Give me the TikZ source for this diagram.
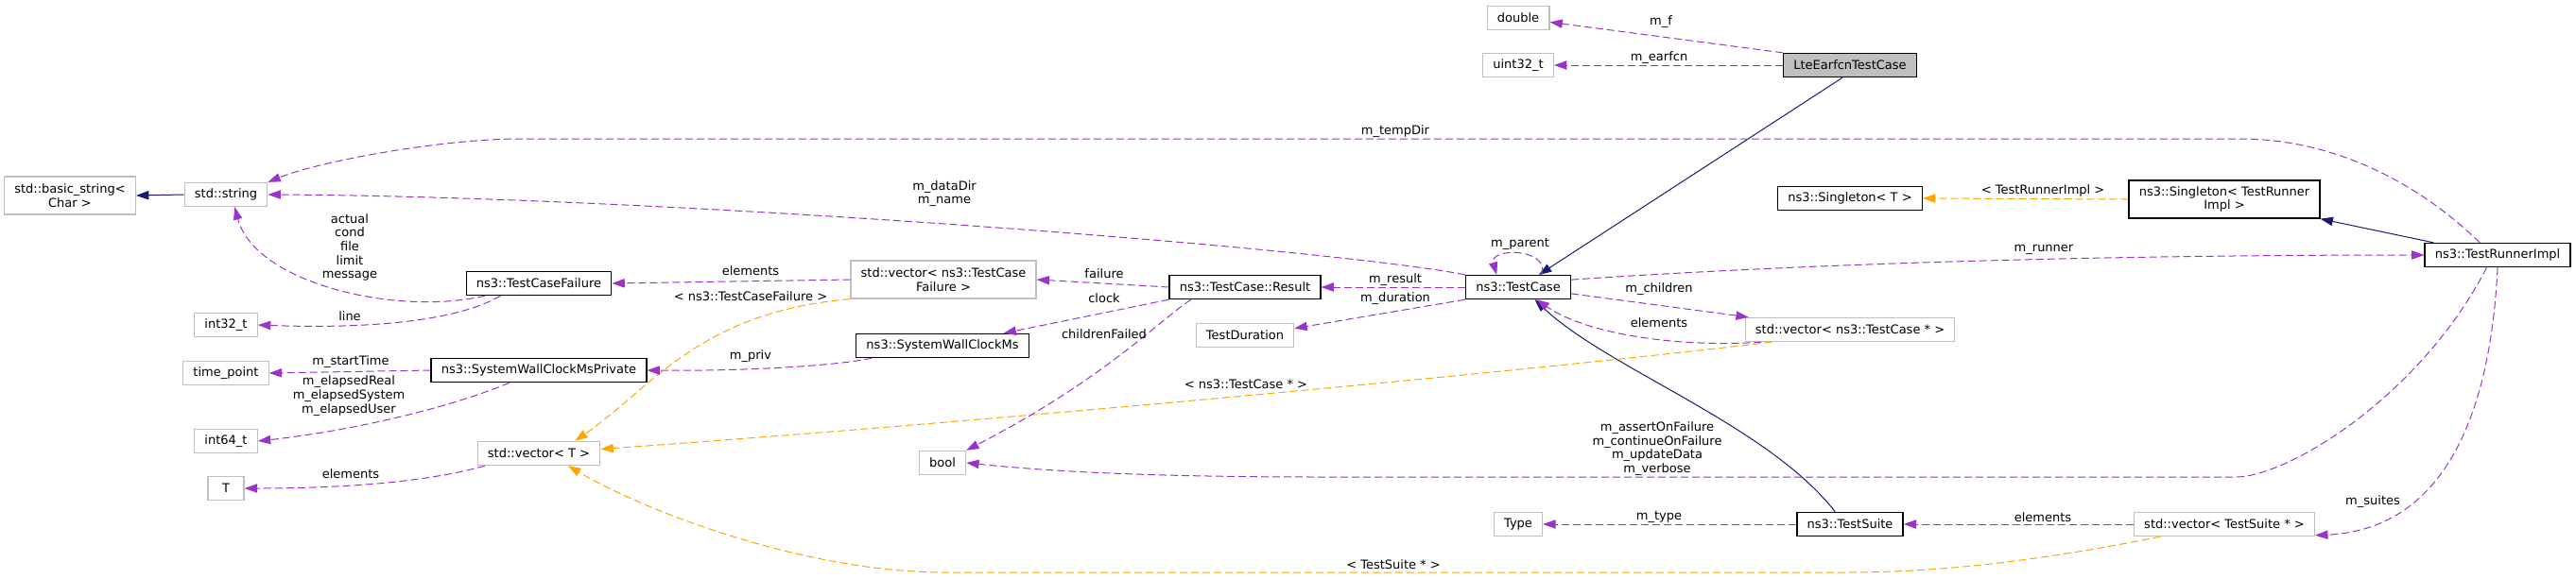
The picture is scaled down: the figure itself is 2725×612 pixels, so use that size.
\documentclass[tikz,border=0pt]{standalone}
\usepackage{fontspec}
\setmainfont{DejaVu Sans}
\usetikzlibrary{
    positioning,
    arrows.meta
    }
\definecolor{edgepurple}{HTML}{9A32CD}
\definecolor{edgeorange}{HTML}{FFA500}
\definecolor{edgeblue}{HTML}{191970}
\definecolor{boxgray}{HTML}{BFBFBF}

\begin{document}
\begin{tikzpicture}[x=0.75pt, y=-0.75pt, every node/.style={font=\fontsize{9.75}{11}\selectfont}]
\tikzset{docnode/.style =
        {
            rectangle,
            draw=black,
            line width=1pt,
            fill=white,
            inner xsep=8pt,
            inner ysep=2pt,
            minimum width=28.5pt,
            minimum height=18.75pt,
            align=center
        }
}

\tikzset{extnode/.style = { docnode, draw=boxgray } }

\tikzset{mainnode/.style = { docnode, fill=boxgray } }

\tikzset{tallnode/.style = { minimum height=30pt } }

\tikzset{member/.style =
        {
            line width=0.75pt,
            edgepurple,
            dash pattern=on 6pt off 3pt,
            -{Triangle[length=10pt, width=7pt]}
        }
}

\tikzset{tmpl/.style = { member, edgeorange } }

\tikzset{inherit/.style = { member, edgeblue, solid } }

\tikzset{elabel/.style =
        {
            inner sep=0pt,
            align=center,
            text=black
        }
}
		\useasboundingbox (0,0) rectangle (2725,612);

		\foreach \name / \x / \y / \txt in
			{str/239/206/std::string,
				i32/239/344/int32\_t,
				tp/239/395/time\_point,
				i64/239/467/int64\_t,
				vecT/570/480/std::vector< T >,
				tT/239/517/T,
				dur/1317/355/TestDuration,
				bool/997/490/bool,
				dbl/1606/19/double,
				u32/1606/69/uint32\_t,
				vecTC/1957/349/std::vector< ns3::TestCase * >,
				type/1606/555/Type,
				vecTS/2353/555/std::vector< TestSuite * >}
		\node[extnode] (\name) at (\x,\y) {\txt};

		\foreach \name / \x / \y / \txt in
			{tcf/570/300/ns3::TestCaseFailure,
				swcp/570/392/ns3::SystemWallClockMsPrivate,
				res/1317/304/ns3::TestCase::Result,
				swc/997/366/ns3::SystemWallClockMs,
				sgT/1957/210/ns3::Singleton< T >,
				tc/1606/304/ns3::TestCase,
				tri/2642/270/ns3::TestRunnerImpl,
				ts/1957/555/ns3::TestSuite}
		\node[docnode] (\name) at (\x,\y) {\txt};

		\node[extnode, tallnode] (bstr) at (74,207) {std::basic\_string<\\Char >};
		\node[extnode, tallnode] (vecTCF) at (998,296) {std::vector< ns3::TestCase\\Failure >};
		\node[docnode, tallnode] (sgR) at (2353,211) {ns3::Singleton< TestRunner\\Impl >};
		\node[mainnode] (lte) at (1957,69) {LteEarfcnTestCase};

		% inheritance
		\draw[inherit] (str.west) -- (bstr.east);
		\draw[inherit] (lte.239) -- (tc.31);
		\draw[inherit] (ts.140) .. controls (1870,450) and (1700,390) .. (tc.-37);
		\draw[inherit] (tri.169) -- (sgR.south east);

		% template instances
		\draw[tmpl] (sgR.west) -- (sgT.east);
		\draw[tmpl] (vecTCF.south west) .. controls (740,330) and (690,410) .. (vecT.19);
		\draw[tmpl] (vecTC.189) .. controls (1600,395) and (1000,450) .. (vecT.4);
		\draw[tmpl] (vecTS.191) .. controls (2150,595) and (2050,606) .. (1950,606)
			-- (1000,606) .. controls (850,606) and (680,540) .. (vecT.-23);

		% members
		\draw[member] (lte.north west) -- (dbl);
		\draw[member] (lte) -- (u32);
		\draw[member] (tri.145) .. controls (2560,195) and (2470,147) .. (2370,147)
			-- (549,147) .. controls (470,147) and (340,170) .. (str.north east);
		\draw[member] (tc.north west) .. controls (1400,262) and (700,208) .. (str.east);
		\draw[member] (tcf.193) .. controls (420,335) and (270,300) .. (str.-55);
		\draw[member] (tcf.198) .. controls (480,342) and (380,348) .. (i32.east);
		\draw[member] (vecTCF.west) -- (tcf.east);
		\draw[member] (res.west) -- (vecTCF.east);
		\draw[member] (res.south west) -- (swc);
		\draw[member] (res.193) .. controls (1225,340) and (1170,400) .. (bool.north east);
		\draw[member] (swc.190) .. controls (880,388) and (780,393) .. (swcp.east);
		\draw[member] (swcp.west) -- (tp.east);
		\draw[member] (swcp.203) .. controls (480,430) and (380,455) .. (i64.east);
		\draw[member] (vecT.193) .. controls (460,508) and (380,517) .. (tT.east);
		\draw[member] (tc.28) .. controls (1640,262) and (1575,262) .. (tc.150);
		\draw[member] (tc.west) -- (res.east);
		\draw[member] (tc.south west) -- (dur.8);
		\draw[member] (tc.8) .. controls (1900,280) and (2200,270) .. (tri.west);
		\draw[member] (tc.-7) -- (vecTC.173);
		\draw[member] (vecTC.188) .. controls (1780,368) and (1680,355) .. (tc.-34);
		\draw[member] (tri.229) .. controls (2560,420) and (2420,505) .. (2365,505)
			-- (1400,505) .. controls (1200,505) and (1100,498) .. (bool.east);
		\draw[member] (tri.south) .. controls (2635,430) and (2590,560) .. (vecTS.-7);
		\draw[member] (vecTS.west) -- (ts.east);
		\draw[member] (ts.west) -- (type.east);

		\foreach \name / \x / \y / \txt in
			{l-mf/1757/23/m\_f,
				l-earfcn/1755/61/m\_earfcn,
				l-tempdir/1476/139/m\_tempDir,
				l-line/370/335/line,
				l-elemtcf/794/287/elements,
				l-failure/1168/290/failure,
				l-clock/1168/316/clock,
				l-childfail/1168/354/childrenFailed,
				l-priv/794/377/m\_priv,
				l-start/371/383/m\_startTime,
				l-elemt/371/502/elements,
				l-parent/1608/258/m\_parent,
				l-result/1476/296/m\_result,
				l-duration/1476/316/m\_duration,
				l-runner/2162/264/m\_runner,
				l-children/1755/306/m\_children,
				l-elemtc/1755/342/elements,
				l-suites/2510/531/m\_suites,
				l-elemts/2161/548/elements,
				l-mtype/1755/547/m\_type,
				l-trimpl/2161/202/< TestRunnerImpl >,
				l-tcfail/794/314/< ns3::TestCaseFailure >,
				l-tcptr/1318/407/< ns3::TestCase * >,
				l-tsptr/1474/598/< TestSuite * >}
		\node[elabel] (\name) at (\x,\y) {\txt};

		\node[elabel] (l-datadir) at (999,205) {m\_dataDir\\m\_name};
		\node[elabel] (l-actual) at (370,262) {actual\\cond\\file\\limit\\message};
		\node[elabel] (l-elapsed) at (369,419) {m\_elapsedReal\\m\_elapsedSystem\\m\_elapsedUser};
		\node[elabel] (l-assert) at (1753,475) {m\_assertOnFailure\\m\_continueOnFailure\\m\_updateData\\m\_verbose};

	\end{tikzpicture}
\end{document}
